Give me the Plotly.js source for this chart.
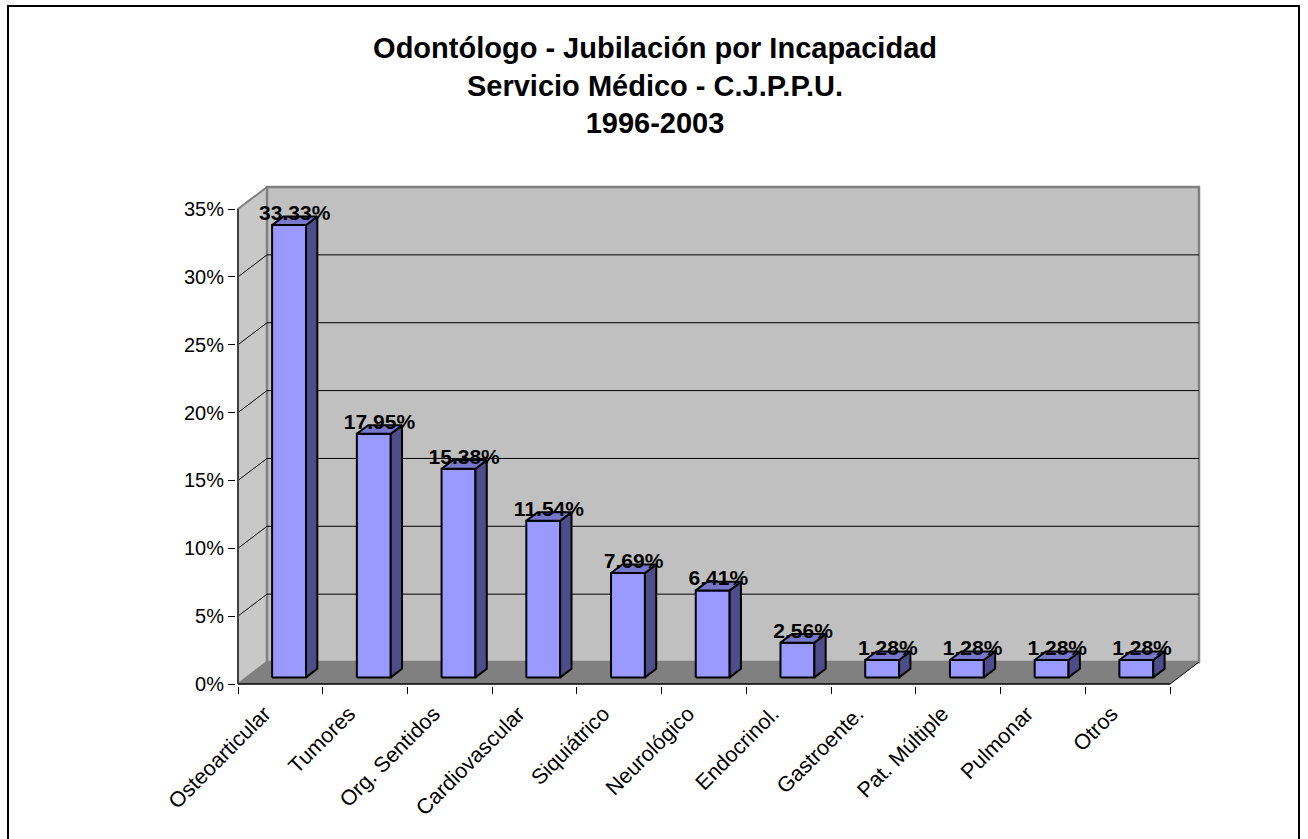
<!DOCTYPE html>
<html>
<head>
<meta charset="utf-8">
<script src="https://cdn.plot.ly/plotly-3.0.1.min.js"></script>
<style>
  html, body { margin: 0; padding: 0; background: #fff; }
  #wrap { position: relative; width: 1308px; height: 839px; overflow: hidden; }
  #chart { position: absolute; left: 0; top: 0; width: 1308px; height: 839px; }
  #frame { position: absolute; left: 7px; top: 5px; width: 1293px; height: 850px;
           border: 2px solid #000; pointer-events: none; box-sizing: border-box; }
</style>
</head>
<body>
<div id="wrap"><div id="chart"></div><div id="frame"></div></div>
<script>
// ---- data ----
const categories = ['Osteoarticular', 'Tumores', 'Org. Sentidos', 'Cardiovascular', 'Siquiátrico',
  'Neurológico', 'Endocrinol.', 'Gastroente.', 'Pat. Múltiple', 'Pulmonar', 'Otros'];
const values = [33.33, 17.95, 15.38, 11.54, 7.69, 6.41, 2.56, 1.28, 1.28, 1.28, 1.28];
const valueLabels = ['33.33%', '17.95%', '15.38%', '11.54%', '7.69%', '6.41%', '2.56%', '1.28%', '1.28%', '1.28%', '1.28%'];
const yTickVals = [0, 5, 10, 15, 20, 25, 30, 35];
const yTickText = ['0%', '5%', '10%', '15%', '20%', '25%', '30%', '35%'];
const yMax = 35;

// ---- 3D projection settings (in axis units) ----
const DX = 0.3423;   // depth shift along x (category units)
const DY = 1.621;    // depth shift along y (percent units)
const F0 = 0.30, F1 = 0.69;  // bar depth range (fraction of full depth)
const BW = 0.40;     // bar width (category units)
const LABEL_LIFT = 0.44;

const FONT = 'Arial, "Liberation Sans", sans-serif';
const n = categories.length;
const xL = -0.5, xR = n - 0.5;

const traces = [];
function poly(xs, ys, fill, lineColor, lineWidth) {
  traces.push({
    type: 'scatter', mode: 'lines', x: xs, y: ys,
    fill: fill ? 'toself' : 'none', fillcolor: fill || undefined,
    line: { color: lineColor || 'rgba(0,0,0,0)', width: lineWidth || 0 },
    hoverinfo: 'skip', showlegend: false
  });
}

// side wall
poly([xL, xL + DX, xL + DX, xL, xL], [0, DY, yMax + DY, yMax, 0], '#c8c8c8', '#808080', 2);
// back wall
poly([xL + DX, xR + DX, xR + DX, xL + DX, xL + DX], [DY, DY, yMax + DY, yMax + DY, DY], '#c0c0c0', '#808080', 2.5);
// gridlines
yTickVals.filter(v => v > 0 && v < yMax).forEach(v => {
  poly([xL, xL + DX, xR + DX], [v, v + DY, v + DY], null, '#000', 1);
});
// floor
poly([xL, xR, xR + DX, xL + DX, xL], [0, 0, DY, DY, 0], '#808080', null, 0);
// floor right edge
poly([xR, xR + DX], [0, DY], null, '#000', 1);
// front axis lines
poly([xL, xR], [0, 0], null, '#000', 1.5);
poly([xL, xL], [0, yMax], null, '#404040', 2);

// bars
values.forEach((v, i) => {
  const a = i - BW / 2 + F0 * DX, b = i + BW / 2 + F0 * DX;
  const y0 = F0 * DY, y1 = F1 * DY, ddx = (F1 - F0) * DX;
  poly([a, b, b, a, a], [y0, y0, v + y0, v + y0, y0], '#9999ff', '#000', 2);
  poly([b, b + ddx, b + ddx, b, b], [y0, y1, v + y1, v + y0, y0], '#4d4d8a', '#000', 2);
  poly([a, b, b + ddx, a + ddx, a], [v + y0, v + y0, v + y1, v + y1, v + y0], '#7777cc', '#000', 2);
});

// data labels
traces.push({
  type: 'scatter', mode: 'text',
  x: values.map((v, i) => i + (F0 + F1) / 2 * DX),
  y: values.map(v => v + (F0 + F1) / 2 * DY + LABEL_LIFT),
  text: valueLabels, textposition: 'middle center',
  textfont: { family: FONT, size: 21, color: '#000', weight: 'bold' },
  cliponaxis: false, hoverinfo: 'skip', showlegend: false
});

// dummy trace for the boundary-tick axis
traces.push({ type: 'scatter', mode: 'markers', x: [null], y: [null], xaxis: 'x2', yaxis: 'y',
  hoverinfo: 'skip', showlegend: false });

const xRange = [-0.5236, 10.8659];
const layout = {
  width: 1308, height: 839,
  margin: { l: 236, r: 107, t: 183, b: 153, pad: 0 },
  paper_bgcolor: '#fff', plot_bgcolor: 'rgba(0,0,0,0)',
  showlegend: false,
  font: { family: FONT, color: '#000' },
  title: {
    text: '<b>Odontólogo - Jubilación por Incapacidad</b><br><b>Servicio Médico - C.J.P.P.U.</b><br><b>1996-2003</b>',
    font: { family: FONT, size: 29, color: '#000' },
    xref: 'container', x: 0.5008, xanchor: 'center',
    yref: 'container', y: 1 - 58 / 839, yanchor: 'top'
  },
  xaxis: {
    range: xRange, tickvals: categories.map((c, i) => i), ticktext: categories,
    tickangle: -45, ticks: '', showgrid: false, zeroline: false, showline: false,
    ticklabelstandoff: 10, ticklabelshift: -16,
    tickfont: { family: FONT, size: 21.5, color: '#000' }, fixedrange: true
  },
  xaxis2: {
    range: xRange, overlaying: 'x', anchor: 'y', side: 'bottom',
    tickvals: categories.map((c, i) => i - 0.5).concat([n - 0.5]),
    ticks: 'outside', ticklen: 7, tickwidth: 1, tickcolor: '#000',
    showticklabels: false, showgrid: false, zeroline: false, showline: false, fixedrange: true
  },
  yaxis: {
    range: [-0.1474, 36.917], tickvals: yTickVals, ticktext: yTickText,
    ticks: 'outside', ticklen: 7, tickwidth: 1, tickcolor: '#000',
    showgrid: false, zeroline: false, showline: false,
    tickfont: { family: FONT, size: 20, color: '#000' }, fixedrange: true
  }
};

Plotly.newPlot('chart', traces, layout, { staticPlot: true, displayModeBar: false });
</script>
</body>
</html>
